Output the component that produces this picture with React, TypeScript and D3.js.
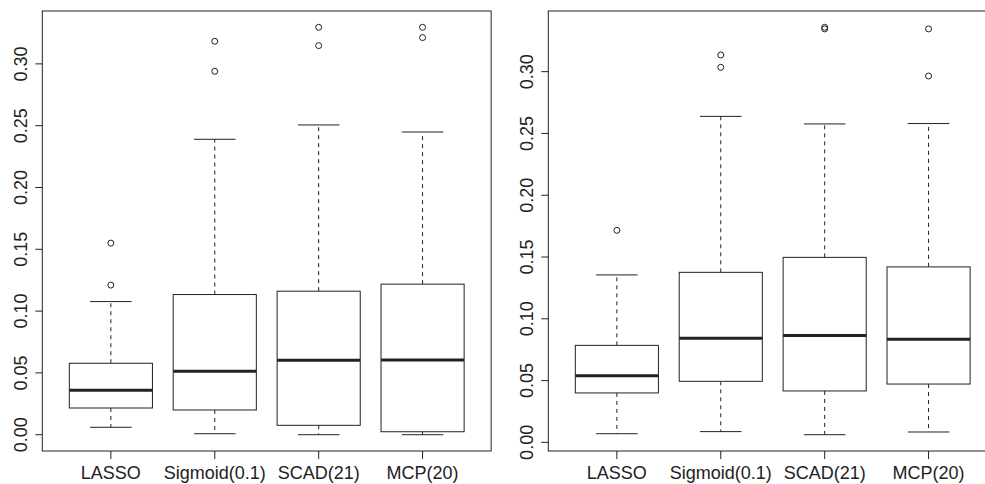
import React from "react";
import * as d3 from "d3";

const categories = ["LASSO", "Sigmoid(0.1)", "SCAD(21)", "MCP(20)"];
const yTicks = [0, 0.05, 0.1, 0.15, 0.2, 0.25, 0.3];

// Left panel
const leftLow = [0.006, 0.0008, 0.0, 0.0];
const leftQ1 = [0.0216, 0.02, 0.0076, 0.0024];
const leftMedian = [0.036, 0.0513, 0.0603, 0.0605];
const leftQ3 = [0.0578, 0.1134, 0.1161, 0.1218];
const leftHigh = [0.1077, 0.239, 0.2506, 0.2449];
const leftOutliers = [[0.155, 0.121], [0.3183, 0.294], [0.3296, 0.3148], [0.3296, 0.3213]];

// Right panel
const rightLow = [0.007, 0.0087, 0.0062, 0.0084];
const rightQ1 = [0.04, 0.0494, 0.0416, 0.0472];
const rightMedian = [0.054, 0.0842, 0.0864, 0.0834];
const rightQ3 = [0.0785, 0.1376, 0.1497, 0.142];
const rightHigh = [0.1355, 0.2638, 0.2577, 0.258];
const rightOutliers = [[0.1716], [0.3135, 0.3035], [0.3359, 0.3346], [0.3346, 0.2965]];

const INK = "#222";
const FONT = "'Liberation Sans', Arial, Helvetica, sans-serif";
const FS = 18;

type PanelProps = {
  left: number;
  low: number[];
  q1: number[];
  med: number[];
  q3: number[];
  high: number[];
  outliers: number[][];
};

const TOP = 11;
const BOTTOM = 451;
const UNIT = 103.9;

function Panel({ left, low, q1, med, q3, high, outliers }: PanelProps) {
  const all = [...low, ...high, ...outliers.flat()];
  const mn = d3.min(all) as number;
  const mx = d3.max(all) as number;
  const pad = (mx - mn) * 0.04;
  const y = d3.scaleLinear().domain([mn - pad, mx + pad]).range([BOTTOM, TOP]);
  const x = d3.scaleLinear().domain([0.34, 4.66]).range([left, left + 4.32 * UNIT]);
  const half = 0.4;
  const cap = 0.2;
  return (
    <g>
      <rect x={left} y={TOP} width={x(4.66) - left} height={BOTTOM - TOP} fill="none" stroke={INK} strokeWidth={1} />
      {yTicks.map((t) => (
        <g key={t}>
          <line x1={left - 7} x2={left} y1={y(t)} y2={y(t)} stroke={INK} />
          <text
            transform={`translate(${left - 15},${y(t)}) rotate(-90)`}
            textAnchor="middle"
            fontFamily={FONT}
            fontSize={FS}
            fill={INK}
          >
            {d3.format(".2f")(t)}
          </text>
        </g>
      ))}
      {categories.map((c, i) => {
        const cx = x(i + 1);
        return (
          <g key={c}>
            <line x1={cx} x2={cx} y1={BOTTOM} y2={BOTTOM + 8} stroke={INK} />
            <text x={cx} y={BOTTOM + 28} textAnchor="middle" fontFamily={FONT} fontSize={FS} fill={INK}>
              {c}
            </text>
            <line x1={cx} x2={cx} y1={y(q3[i])} y2={y(high[i])} stroke={INK} strokeDasharray="4,4" />
            <line x1={cx} x2={cx} y1={y(q1[i])} y2={y(low[i])} stroke={INK} strokeDasharray="4,4" />
            <line x1={x(i + 1 - cap)} x2={x(i + 1 + cap)} y1={y(high[i])} y2={y(high[i])} stroke={INK} />
            <line x1={x(i + 1 - cap)} x2={x(i + 1 + cap)} y1={y(low[i])} y2={y(low[i])} stroke={INK} />
            <rect
              x={x(i + 1 - half)}
              y={y(q3[i])}
              width={x(i + 1 + half) - x(i + 1 - half)}
              height={y(q1[i]) - y(q3[i])}
              fill="white"
              stroke={INK}
            />
            <line x1={x(i + 1 - half)} x2={x(i + 1 + half)} y1={y(med[i])} y2={y(med[i])} stroke={INK} strokeWidth={3} />
            {outliers[i].map((o, j) => (
              <circle key={j} cx={cx} cy={y(o)} r={3} fill="none" stroke={INK} />
            ))}
          </g>
        );
      })}
    </g>
  );
}

export default function App() {
  return (
    <svg width={985} height={484} style={{ position: "absolute", left: 0, top: 0, background: "white" }}>
      <rect width={985} height={484} fill="white" />
      <Panel left={42.3} low={leftLow} q1={leftQ1} med={leftMedian} q3={leftQ3} high={leftHigh} outliers={leftOutliers} />
      <Panel left={548.3} low={rightLow} q1={rightQ1} med={rightMedian} q3={rightQ3} high={rightHigh} outliers={rightOutliers} />
    </svg>
  );
}
